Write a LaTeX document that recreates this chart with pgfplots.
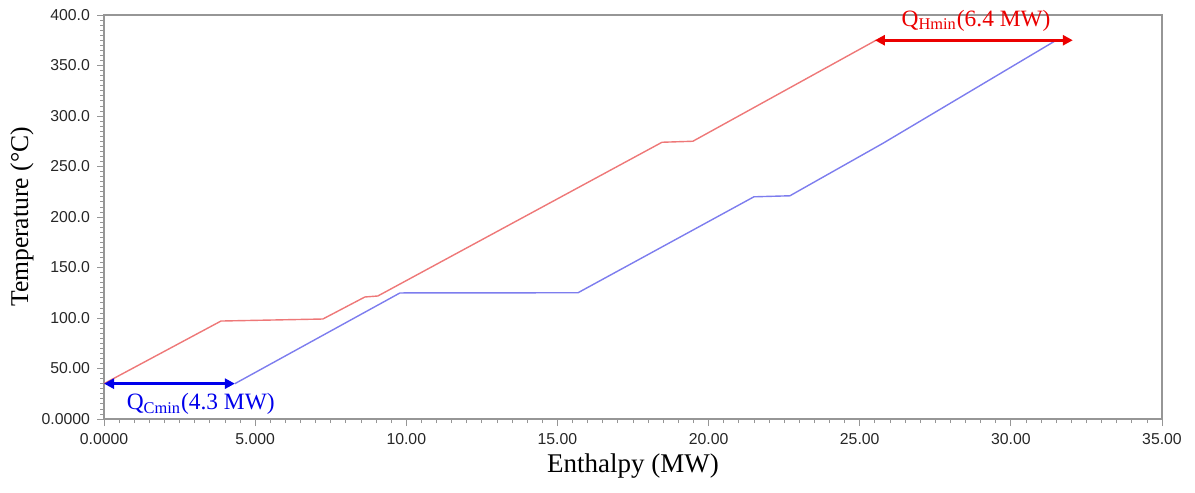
\documentclass[border=0pt]{standalone}
\usepackage{pgfplots}
\pgfplotsset{compat=1.18}
\usepackage{fontspec}
\setmainfont{Liberation Serif}
\setsansfont{Liberation Sans}
\usetikzlibrary{arrows.meta}

\definecolor{hotline}{RGB}{238,120,120}
\definecolor{coldline}{RGB}{125,125,238}
\definecolor{hotarrow}{RGB}{235,0,0}
\definecolor{coldarrow}{RGB}{0,0,235}
\definecolor{framegray}{RGB}{150,150,150}

\begin{document}
\begin{tikzpicture}
  \begin{axis}[
    scale only axis,
    width=529pt, height=202pt,
    xmin=0, xmax=35, ymin=0, ymax=400,
    axis line style={framegray, line width=0.6pt},
    xtick={0,5,...,35},
    xticklabels={0.0000,5.000,10.00,15.00,20.00,25.00,30.00,35.00},
    ytick={0,50,...,400},
    yticklabels={0.0000,50.00,100.0,150.0,200.0,250.0,300.0,350.0,400.0},
    minor x tick num=9, minor y tick num=9,
    tick align=outside,
    xtick pos=bottom, ytick pos=left,
    major tick length=3.5pt, minor tick length=2pt,
    every tick/.style={framegray, line width=0.4pt},
    tick label style={font=\sffamily\fontsize{7.9}{8.5}\selectfont, text=black!85},
    xlabel={Enthalpy (MW)},
    ylabel={Temperature (\textdegree C)},
    xlabel style={font=\fontsize{13.5}{15}\selectfont, at={(axis description cs:0.5,0)}, anchor=center, yshift=-23.5pt},
    ylabel style={font=\fontsize{12.8}{14}\selectfont, at={(axis description cs:0,0.5)}, anchor=center, yshift=41pt},
    clip=false,
  ]
    % hot composite curve
    \addplot[hotline, line width=0.7pt] coordinates {
      (0,35) (3.87,97) (7.24,99) (8.63,120.8) (9.06,121.8)
      (18.46,274) (19.48,275) (25.54,375)
    };
    % cold composite curve
    \addplot[coldline, line width=0.7pt] coordinates {
      (4.33,35) (9.79,124.8) (15.68,125) (21.5,220) (22.69,221)
      (25.77,273) (31.5,375)
    };
    % minimum utilities
    \addplot[coldarrow, line width=1.4pt, {Triangle[length=5pt,width=5pt]}-{Triangle[length=5pt,width=5pt]}] coordinates {(0,35) (4.33,35)};
    \addplot[hotarrow, line width=1.4pt, {Triangle[length=5pt,width=5pt]}-{Triangle[length=5pt,width=5pt]}] coordinates {(25.5,375) (32.05,375)};
    \node[anchor=base, text=coldarrow, font=\fontsize{11.7}{13}\selectfont] at (axis cs:3.2,9) {Q\textsubscript{Cmin}(4.3 MW)};
    \node[anchor=base, text=hotarrow, font=\fontsize{11.7}{13}\selectfont] at (axis cs:28.85,389) {Q\textsubscript{Hmin}(6.4 MW)};
  \end{axis}
  \pgfresetboundingbox
  \useasboundingbox (current axis.south west) ++(-52pt,-36.5pt) rectangle ([xshift=16.5pt,yshift=7.5pt]current axis.north east);
\end{tikzpicture}
\end{document}
